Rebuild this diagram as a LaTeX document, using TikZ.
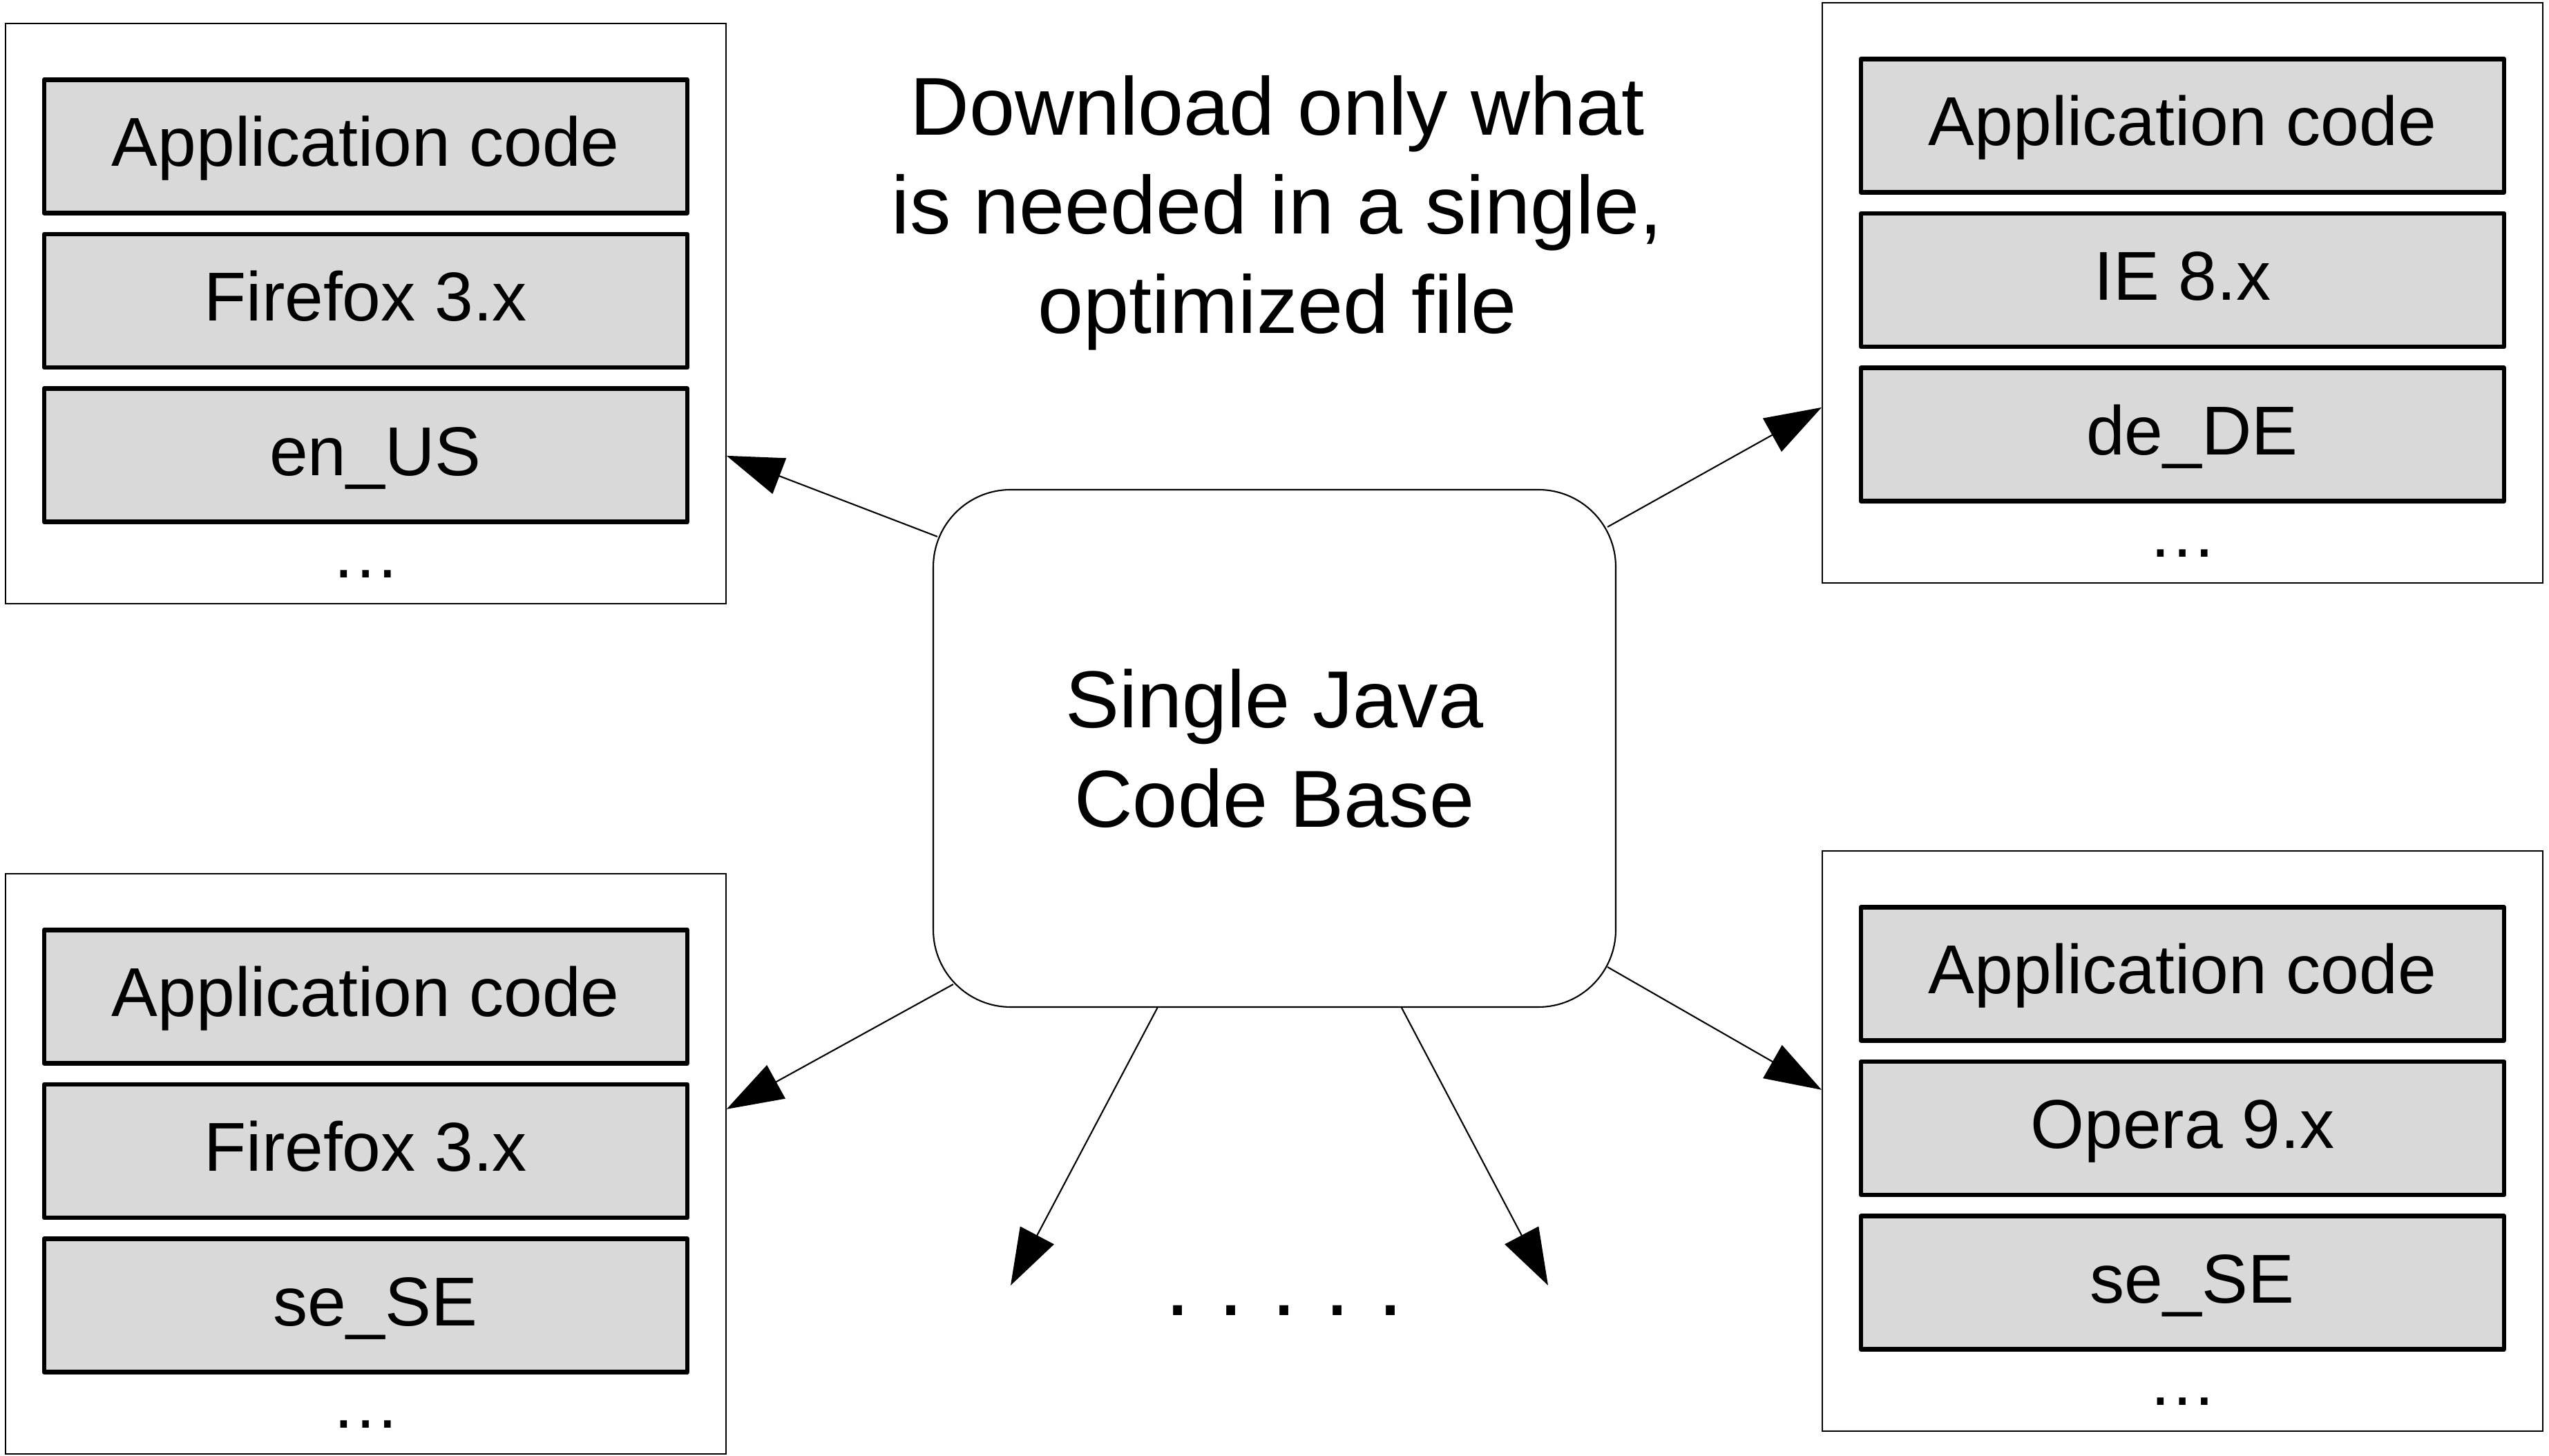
\documentclass[tikz,border=0pt]{standalone}
\usepackage{fontspec}
\setmainfont{Liberation Sans}
\usepackage{xcolor}
\usetikzlibrary{positioning}
\usetikzlibrary{arrows.meta}
\definecolor{rowgray}{HTML}{D9D9D9}

\begin{document}
\begin{tikzpicture}[
    panel/.style={draw, line width=0.5pt, minimum width=10.43cm, minimum height=8.40cm, inner sep=0pt, anchor=north west},
    row/.style={draw, fill=rowgray, line width=1.9pt, line join=round, minimum width=9.31cm, minimum height=1.93cm, inner sep=0pt, text height=0.72cm, text depth=0.14cm, font=\fontsize{28.5}{34}\selectfont},
    more/.style={inner sep=0pt, font=\fontsize{28.5}{34}\selectfont},
    arr/.style={-{Triangle[length=0.82cm,width=0.55cm]}, line width=0.6pt},
  ]
  \useasboundingbox (0,0) rectangle (36.9,21.08);
  % title
  \node[align=center, inner sep=0pt, font=\fontsize{33.8}{40.8}\selectfont] (title) at (18.49,18.0)
    {Download only what\\is needed in a single,\\optimized file};
  % central box
  \node[draw, line width=0.6pt, rounded corners=1.12cm, minimum width=9.88cm, minimum height=7.49cm,
    align=center, font=\fontsize{33.3}{41}\selectfont] (cb) at (18.45,10.245) {Single Java\\Code Base};
  % the four panels
  \foreach \n/\x/\y/\brow/\lrow in {tl/0.07/20.75/Firefox 3.x/en\_US, tr/26.37/21.05/IE 8.x/de\_DE,
      bl/0.07/8.44/Firefox 3.x/se\_SE, br/26.37/8.77/Opera 9.x/se\_SE}
  {
    \node[panel] (\n) at (\x,\y) {};
    \node[row, below=0.79cm of \n.north] (\n-1) {Application code};
    \node[row, below=0.24cm of \n-1] (\n-2) {\brow};
    \node[row, below=0.24cm of \n-2] (\n-3) {\hspace{0.28cm}\lrow};
    \node[more, below=0.66cm of \n-3] (\n-4) {…};
  }
  % more to come
  \node[inner sep=0pt, font=\fontsize{38}{40}\selectfont] (etc) at (18.59,2.11)
    {.\hspace{0.4cm}.\hspace{0.4cm}.\hspace{0.4cm}.\hspace{0.4cm}.};
  % arrow ends
  \coordinate (tl-in) at ([yshift=-2.06cm]tl.east);
  \coordinate (tr-in) at ([yshift=-1.66cm]tr.west);
  \coordinate (bl-in) at ([yshift=0.79cm]bl.east);
  \coordinate (br-in) at ([yshift=0.74cm]br.west);
  \coordinate (etc-l) at (14.63,2.47);
  \coordinate (etc-r) at (22.41,2.47);
  % arrows
  \draw[arr] ([shift={(0.07,-0.69)}]cb.north west) -- (tl-in);
  \draw[arr] ([shift={(-0.13,-0.55)}]cb.north east) -- (tr-in);
  \draw[arr] ([shift={(0.30,0.34)}]cb.south west) -- (bl-in);
  \draw[arr] ([shift={(-0.13,0.59)}]cb.south east) -- (br-in);
  \draw[arr] ([xshift=-1.695cm]cb.south) -- (etc-l);
  \draw[arr] ([xshift=1.84cm]cb.south) -- (etc-r);
\end{tikzpicture}
\end{document}
